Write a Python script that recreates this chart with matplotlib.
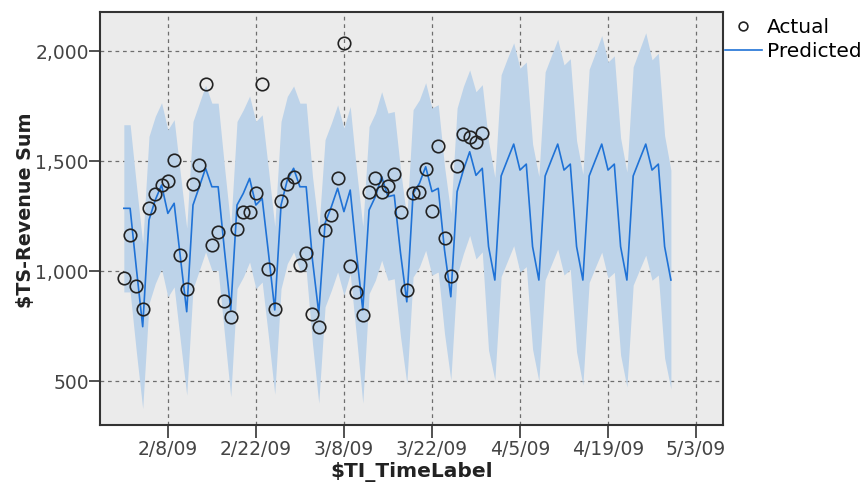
import pandas as pd
import numpy as np
import matplotlib
matplotlib.use("Agg")
import matplotlib.pyplot as plt
import matplotlib.dates as mdates
from matplotlib.ticker import FuncFormatter

# Serie diaria a partir de 1/2/2009
start = "2009-02-01"

actual = [967, 1162, 932, 829, 1285, 1349, 1391, 1409, 1505, 1073,
          920, 1394, 1482, 1850, 1118, 1179, 864, 792, 1191, 1267,
          1270, 1353, 1850, 1009, 829, 1318, 1397, 1426, 1026, 1080,
          805, 747, 1186, 1255, 1421, 2035, 1023, 903, 802, 1359,
          1421, 1361, 1386, 1441, 1270, 914, 1353, 1361, 1462, 1274,
          1568, 1149, 979, 1479, 1623, 1611, 1585, 1626]

predicted = [1285, 1285, 1010, 747, 1232, 1323, 1391, 1262, 1308, 1060,
             815, 1300, 1383, 1467, 1383, 1383, 1095, 823, 1300, 1353,
             1421, 1300, 1330, 1082, 823, 1300, 1414, 1467, 1383, 1383,
             1050, 808, 1217, 1292, 1376, 1270, 1368, 1080, 823, 1277,
             1338, 1429, 1338, 1345, 1082, 860, 1353, 1398, 1474, 1361,
             1376, 1095, 883, 1361, 1459, 1542, 1435, 1467, 1111, 959,
             1432, 1505, 1577, 1459, 1486, 1111, 959, 1432, 1505, 1577,
             1459, 1486, 1111, 959, 1432, 1505, 1577, 1459, 1486, 1111,
             959, 1432, 1505, 1577, 1459, 1486, 1111, 959]

upper = [1665, 1665, 1390, 1125, 1612, 1703, 1765, 1642, 1688, 1440,
         1195, 1680, 1763, 1845, 1763, 1763, 1475, 1203, 1680, 1733,
         1795, 1680, 1710, 1462, 1203, 1680, 1794, 1841, 1763, 1763,
         1430, 1188, 1597, 1672, 1755, 1650, 1748, 1460, 1203, 1657,
         1718, 1815, 1718, 1725, 1462, 1240, 1733, 1778, 1856, 1741,
         1756, 1475, 1263, 1741, 1839, 1914, 1815, 1847, 1590, 1425,
         1892, 1967, 2037, 1922, 1950, 1578, 1430, 1905, 1980, 2053,
         1937, 1965, 1592, 1440, 1917, 1992, 2070, 1950, 1978, 1605,
         1450, 1928, 2005, 2083, 1960, 1990, 1615, 1458]

lower = [905, 905, 630, 375, 852, 943, 1010, 882, 928, 680,
         436, 920, 1003, 1087, 1003, 1003, 715, 429, 920, 973,
         1041, 920, 950, 702, 440, 920, 1034, 1087, 1003, 1003,
         670, 400, 837, 912, 996, 890, 988, 700, 400, 897,
         958, 1049, 958, 965, 702, 490, 973, 1018, 1094, 981,
         996, 715, 505, 981, 1079, 1162, 1055, 1087, 640, 505,
         975, 1045, 1115, 995, 1020, 645, 500, 960, 1030, 1100,
         982, 1008, 632, 482, 948, 1018, 1086, 968, 994, 618,
         473, 936, 1005, 1072, 958, 982, 605, 464]

dates_all = pd.date_range(start, periods=len(predicted), freq="D")
dates_act = dates_all[:len(actual)]

fig = plt.figure(figsize=(8.68, 4.83), dpi=100)
ax = fig.add_axes([0.1152, 0.12, 0.7178, 0.855])
ax.set_facecolor("#ebebeb")

# Intervalo de confianca
ax.fill_between(dates_all, lower, upper, color="#bdd3e9", linewidth=0, zorder=1)
ax.plot(dates_all, predicted, color="#1f72d6", linewidth=1.2, label="Predicted", zorder=3)
ax.plot(dates_act, actual, linestyle="none", marker="o", markersize=9,
        markerfacecolor="none", markeredgecolor="#222222", markeredgewidth=1.2,
        label="Actual", zorder=4)

ax.set_xlim(pd.Timestamp("2009-01-28 05:00"), pd.Timestamp("2009-05-07 07:00"))
ax.set_ylim(300, 2177)

ax.set_yticks([500, 1000, 1500, 2000])
ax.yaxis.set_major_formatter(FuncFormatter(lambda v, p: f"{int(v):,}"))

xt = pd.date_range("2009-02-08", "2009-05-03", freq="14D")
ax.set_xticks(xt)
ax.xaxis.set_major_formatter(FuncFormatter(
    lambda v, p: (lambda d: f"{d.month}/{d.day}/{d.strftime('%y')}")(mdates.num2date(v))))

ax.grid(True, color="#6e6e6e", linestyle=(0, (3, 3)), linewidth=0.9)
ax.set_axisbelow(True)
for s in ax.spines.values():
    s.set_color("#333333")
    s.set_linewidth(1.5)

ax.tick_params(axis="x", length=9, width=1.2, color="#333333", labelcolor="#444444",
               labelsize=13.5, pad=2)
ax.tick_params(axis="y", length=8, width=1.2, color="#333333", labelcolor="#444444",
               labelsize=13.5, pad=0)

ax.set_xlabel(r"\$TI_TimeLabel", fontsize=14.5, fontweight="bold", color="#222222")
ax.xaxis.set_label_coords(0.5, -0.09)
ax.set_ylabel(r"\$TS-Revenue Sum", fontsize=13.8, fontweight="bold", color="#222222")
ax.yaxis.set_label_coords(-0.105, 0.52)

handles, labels = ax.get_legend_handles_labels()
fig.legend([handles[1], handles[0]], [labels[1], labels[0]],
           loc="upper left", bbox_to_anchor=(0.835, 0.963), frameon=False,
           fontsize=14.5, handlelength=1.85, handletextpad=0.25, labelspacing=0.25,
           borderaxespad=0, borderpad=0, markerscale=0.7)

plt.savefig("out.png", dpi=100)
plt.close()
